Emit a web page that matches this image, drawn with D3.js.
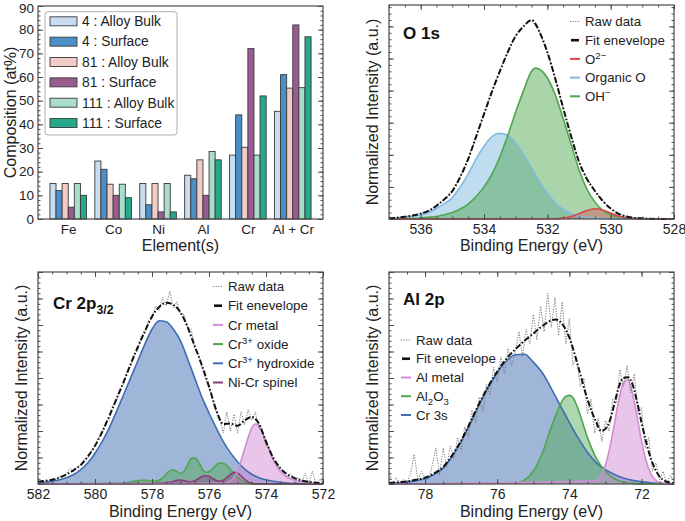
<!DOCTYPE html>
<html>
<head>
<meta charset="utf-8">
<script src="https://d3js.org/d3.v7.min.js"></script>
<style>
  body { margin: 0; background: #fff; }
  text, tspan { white-space: pre; }
</style>
</head>
<body>
<svg id="fig" width="685" height="521"></svg>
<script>
// ---------- composition bars ----------
const elements = ["Fe", "Co", "Ni", "Al", "Cr", "Al + Cr"];
const seriesNames = ["4 : Alloy Bulk", "4 : Surface", "81 : Alloy Bulk", "81 : Surface", "111 : Alloy Bulk", "111 : Surface"];
const bulk4 = [15, 24.5, 15, 18.5, 27, 45.5];
const surf4 = [12, 21, 6, 17, 44, 61];
const bulk81 = [15, 14.7, 15, 25, 30.3, 55.3];
const surf81 = [5, 10, 3, 10, 72, 82];
const bulk111 = [15, 14.7, 15, 28.5, 27, 55.5];
const surf111 = [10, 9, 3, 25, 52, 77];
const compTicks = [0, 10, 20, 30, 40, 50, 60, 70, 80, 90];

// ---------- O 1s ----------
const oTicks = [536, 534, 532, 530, 528];
const oOrganic = [[537,0.003],[536.75,0.005],[536.5,0.008],[536.25,0.013],[536,0.02],[535.75,0.03],[535.5,0.05],[535.25,0.072],[535,0.1],[534.75,0.15],[534.5,0.21],[534.25,0.28],[534,0.34],[533.75,0.385],[533.5,0.4],[533.25,0.39],[533,0.355],[532.75,0.3],[532.5,0.24],[532.25,0.175],[532,0.12],[531.75,0.075],[531.5,0.045],[531.25,0.025],[531,0.013],[530.75,0.007],[530.5,0.004],[530.25,0.002],[530,0.001],[529.75,0]];
const oOH = [[537,0],[536.75,0.001],[536.5,0.002],[536.25,0.003],[536,0.005],[535.75,0.008],[535.5,0.012],[535.25,0.02],[535,0.03],[534.75,0.047],[534.5,0.07],[534.25,0.105],[534,0.15],[533.75,0.21],[533.5,0.29],[533.25,0.39],[533,0.5],[532.75,0.6],[532.5,0.69],[532.375,0.705],[532.25,0.7],[532,0.66],[531.75,0.58],[531.5,0.47],[531.25,0.35],[531,0.23],[530.75,0.14],[530.5,0.08],[530.25,0.04],[530,0.02],[529.75,0.01],[529.5,0.006],[529.25,0.003],[529,0.002],[528.75,0.001],[528.5,0]];
const oO2 = [[531.75,0.001],[531.5,0.004],[531.25,0.012],[531,0.025],[530.75,0.04],[530.5,0.048],[530.25,0.042],[530,0.028],[529.75,0.014],[529.5,0.006],[529.25,0.002],[529,0.001]];
const oFit = [[537,0.003],[536.75,0.006],[536.5,0.01],[536.25,0.016],[536,0.025],[535.75,0.038],[535.5,0.062],[535.25,0.092],[535,0.13],[534.75,0.197],[534.5,0.28],[534.25,0.385],[534,0.49],[533.75,0.595],[533.5,0.69],[533.25,0.78],[533,0.855],[532.75,0.9],[532.5,0.93],[532.375,0.912],[532.25,0.875],[532,0.78],[531.75,0.656],[531.5,0.519],[531.25,0.387],[531,0.268],[530.75,0.187],[530.5,0.132],[530.25,0.084],[530,0.049],[529.75,0.024],[529.5,0.012],[529.25,0.005],[529,0.003],[528.75,0.001],[528.5,0],[528,0]];
const oRaw = [[537,0.004],[536.75,0.005],[536.5,0.012],[536.25,0.015],[536,0.028],[535.75,0.036],[535.5,0.066],[535.25,0.09],[535,0.134],[534.75,0.195],[534.5,0.284],[534.25,0.382],[534,0.494],[533.75,0.592],[533.5,0.694],[533.25,0.777],[533,0.858],[532.75,0.905],[532.5,0.926],[532.25,0.878],[532,0.776],[531.75,0.66],[531.5,0.515],[531.25,0.39],[531,0.265],[530.75,0.19],[530.5,0.13],[530.25,0.086],[530,0.047],[529.75,0.026],[529.5,0.011],[529.25,0.006],[529,0.002],[528.75,0.002],[528.5,0.001],[528.25,0.001],[528,0]];

// ---------- Cr 2p3/2 ----------
const crTicks = [582, 580, 578, 576, 574, 572];
const crHydroxide = [[582,0.005],[581.75,0.008],[581.5,0.013],[581.25,0.02],[581,0.03],[580.75,0.045],[580.5,0.068],[580.25,0.1],[580,0.145],[579.75,0.2],[579.5,0.265],[579.25,0.34],[579,0.42],[578.75,0.5],[578.5,0.58],[578.25,0.66],[578,0.73],[577.75,0.77],[577.5,0.765],[577.25,0.73],[577,0.675],[576.75,0.59],[576.5,0.5],[576.25,0.41],[576,0.335],[575.75,0.265],[575.5,0.2],[575.25,0.148],[575,0.105],[574.75,0.07],[574.5,0.046],[574.25,0.03],[574,0.02],[573.75,0.013],[573.5,0.008],[573.25,0.005],[573,0.003],[572.75,0.002],[572.5,0.001],[572,0]];
const crOxide = [[579,0.003],[578.875,0.006],[578.75,0.009],[578.625,0.013],[578.5,0.016],[578.375,0.018],[578.25,0.018],[578.125,0.016],[578,0.014],[577.875,0.014],[577.75,0.018],[577.625,0.03],[577.5,0.047],[577.375,0.062],[577.25,0.066],[577.125,0.058],[577,0.05],[576.875,0.06],[576.75,0.09],[576.625,0.12],[576.5,0.124],[576.375,0.105],[576.25,0.075],[576.125,0.055],[576,0.058],[575.875,0.072],[575.75,0.089],[575.625,0.099],[575.5,0.098],[575.375,0.088],[575.25,0.07],[575.125,0.05],[575,0.032],[574.875,0.018],[574.75,0.009],[574.625,0.004],[574.5,0.001]];
const crSpinel = [[578,0.002],[577.875,0.003],[577.75,0.004],[577.625,0.005],[577.5,0.006],[577.375,0.008],[577.25,0.012],[577.125,0.017],[577,0.019],[576.875,0.016],[576.75,0.011],[576.625,0.01],[576.5,0.015],[576.375,0.025],[576.25,0.035],[576.125,0.039],[576,0.036],[575.875,0.026],[575.75,0.017],[575.625,0.013],[575.5,0.018],[575.375,0.03],[575.25,0.045],[575.125,0.055],[575,0.052],[574.875,0.038],[574.75,0.022],[574.625,0.01],[574.5,0.004],[574.375,0.001]];
const crMetal = [[575.5,0.003],[575.25,0.015],[575,0.06],[574.75,0.165],[574.5,0.265],[574.375,0.283],[574.25,0.275],[574,0.2],[573.75,0.115],[573.5,0.06],[573.25,0.032],[573,0.018],[572.75,0.01],[572.5,0.005],[572.25,0.002],[572,0.001]];
const crFit = [[582,0.01],[581.75,0.015],[581.5,0.02],[581.25,0.03],[581,0.045],[580.75,0.065],[580.5,0.09],[580.25,0.13],[580,0.18],[579.75,0.245],[579.5,0.32],[579.25,0.4],[579,0.48],[578.75,0.565],[578.5,0.645],[578.25,0.72],[578,0.79],[577.75,0.835],[577.5,0.855],[577.25,0.845],[577,0.81],[576.75,0.74],[576.5,0.65],[576.25,0.56],[576,0.46],[575.75,0.35],[575.5,0.283],[575.25,0.285],[575,0.275],[574.75,0.3],[574.5,0.316],[574.25,0.285],[574,0.2],[573.75,0.125],[573.5,0.075],[573.25,0.045],[573,0.028],[572.75,0.017],[572.5,0.01],[572.25,0.006],[572,0.004]];
const crRaw = [[582,0.012],[581.875,0.008],[581.75,0.018],[581.625,0.014],[581.5,0.026],[581.375,0.02],[581.25,0.034],[581.125,0.03],[581,0.05],[580.875,0.074],[580.75,0.058],[580.625,0.08],[580.5,0.092],[580.375,0.118],[580.25,0.124],[580.125,0.16],[580,0.175],[579.875,0.22],[579.75,0.236],[579.625,0.29],[579.5,0.3],[579.375,0.37],[579.25,0.39],[579.125,0.45],[579,0.47],[578.875,0.53],[578.75,0.555],[578.625,0.61],[578.5,0.63],[578.375,0.7],[578.25,0.71],[578.125,0.77],[578,0.78],[577.875,0.84],[577.75,0.82],[577.625,0.88],[577.5,0.84],[577.375,0.91],[577.25,0.83],[577.125,0.86],[577,0.8],[576.875,0.8],[576.75,0.74],[576.625,0.73],[576.5,0.64],[576.375,0.62],[576.25,0.55],[576.125,0.5],[576,0.45],[575.875,0.4],[575.75,0.34],[575.625,0.31],[575.5,0.24],[575.375,0.34],[575.25,0.25],[575.125,0.33],[575,0.24],[574.875,0.34],[574.75,0.28],[574.625,0.35],[574.5,0.3],[574.375,0.34],[574.25,0.26],[574.125,0.25],[574,0.18],[573.875,0.17],[573.75,0.11],[573.625,0.1],[573.5,0.07],[573.375,0.064],[573.25,0.035],[573.125,0.048],[573,0.02],[572.875,0.03],[572.75,0.01],[572.625,0.05],[572.5,0.004],[572.375,0.06],[572.25,0.002],[572.125,0.02],[572,0.008]];

// ---------- Al 2p ----------
const alTicks = [78, 76, 74, 72];
const alCr3s = [[79,0.003],[78.75,0.006],[78.5,0.01],[78.25,0.016],[78,0.025],[77.75,0.045],[77.5,0.075],[77.25,0.13],[77,0.2],[76.75,0.285],[76.5,0.375],[76.25,0.455],[76,0.525],[75.75,0.58],[75.5,0.61],[75.25,0.612],[75,0.575],[74.75,0.525],[74.5,0.45],[74.25,0.37],[74,0.29],[73.75,0.215],[73.5,0.15],[73.25,0.1],[73,0.068],[72.75,0.045],[72.5,0.028],[72.25,0.017],[72,0.01],[71.75,0.006],[71.5,0.003],[71.25,0.002],[71,0.001]];
const alOxide = [[75.5,0.004],[75.25,0.018],[75,0.06],[74.75,0.145],[74.5,0.27],[74.25,0.375],[74.125,0.41],[74,0.418],[73.875,0.4],[73.75,0.35],[73.5,0.22],[73.25,0.12],[73,0.06],[72.75,0.025],[72.5,0.009],[72.25,0.003],[72,0]];
const alMetal = [[73.25,0.015],[73,0.09],[72.875,0.174],[72.75,0.286],[72.625,0.4],[72.5,0.479],[72.375,0.492],[72.25,0.428],[72.125,0.319],[72,0.203],[71.875,0.111],[71.75,0.052],[71.5,0.007],[71.25,0.001]];
const alFit = [[79,0.005],[78.75,0.008],[78.5,0.012],[78.25,0.02],[78,0.03],[77.75,0.05],[77.5,0.08],[77.25,0.135],[77,0.205],[76.75,0.29],[76.5,0.38],[76.25,0.46],[76,0.53],[75.75,0.59],[75.5,0.635],[75.25,0.675],[75,0.71],[74.75,0.745],[74.5,0.772],[74.375,0.776],[74.25,0.765],[74,0.69],[73.75,0.55],[73.5,0.4],[73.25,0.29],[73.125,0.25],[73,0.26],[72.875,0.3],[72.75,0.38],[72.625,0.46],[72.5,0.5],[72.375,0.503],[72.25,0.47],[72.125,0.39],[72,0.29],[71.75,0.125],[71.5,0.035],[71.25,0.008],[71,0.002]];
const alRaw = [[79,0.06],[78.9,0],[78.8,0.03],[78.7,0.005],[78.6,0.02],[78.5,0.01],[78.4,0.05],[78.3,0.14],[78.2,0.02],[78.1,0.06],[78,0.03],[77.9,0.02],[77.8,0.09],[77.7,0.17],[77.6,0.04],[77.5,0.17],[77.4,0.08],[77.3,0.18],[77.2,0.12],[77.1,0.22],[77,0.16],[76.9,0.27],[76.8,0.22],[76.7,0.35],[76.6,0.29],[76.5,0.41],[76.4,0.34],[76.3,0.47],[76.2,0.42],[76.1,0.55],[76,0.48],[75.9,0.6],[75.8,0.52],[75.7,0.64],[75.6,0.56],[75.5,0.62],[75.4,0.72],[75.3,0.6],[75.2,0.73],[75.1,0.66],[75,0.8],[74.9,0.68],[74.8,0.84],[74.7,0.72],[74.6,0.9],[74.5,0.74],[74.4,0.88],[74.3,0.7],[74.2,0.86],[74.1,0.66],[74,0.78],[73.9,0.56],[73.8,0.6],[73.7,0.46],[73.6,0.5],[73.5,0.33],[73.4,0.4],[73.3,0.24],[73.2,0.31],[73.1,0.2],[73,0.3],[72.9,0.25],[72.8,0.4],[72.7,0.38],[72.6,0.54],[72.5,0.46],[72.4,0.56],[72.3,0.43],[72.2,0.52],[72.1,0.33],[72,0.36],[71.9,0.17],[71.8,0.22],[71.7,0.06],[71.6,0.1],[71.5,0.02],[71.4,0.06],[71.3,0],[71.2,0.04],[71.1,0.01]];

const FONT = "'Liberation Sans', Arial, Helvetica, sans-serif";
const AXIS_COL = "#4a4a4a";
const RAW_COL = "#7a7a7a";
const barColors = ["#c9ddf0", "#4a8fc8", "#f2cbc6", "#9a5b93", "#a9dccb", "#25a98a"];
const GREEN = "#4ea64e", BLUE = "#3f6db3", PINK = "#d28cd4";

const svg = d3.select("#fig").attr("font-family", FONT);

// writes text with sub/superscript pieces
function addRich(t, parts, size) {
  let shift = 0;
  parts.forEach(([s, k]) => {
    const target = k === "sup" ? -0.38 * size : k === "sub" ? 0.28 * size : 0;
    t.append("tspan")
      .attr("dy", target - shift)
      .attr("font-size", k ? size * 0.72 : size)
      .text(s);
    shift = target;
  });
}

function tickAxis(g, axis, tx, ty, labels, size) {
  const gg = g.append("g").attr("transform", "translate(" + tx + "," + ty + ")").call(axis);
  gg.attr("font-family", FONT).attr("font-size", size || 13.5);
  gg.select(".domain").remove();
  gg.selectAll("line").attr("stroke", AXIS_COL).attr("stroke-width", 1);
  gg.selectAll("text").attr("fill", "#222");
  if (!labels) gg.selectAll("text").remove();
  return gg;
}

// ================= bar chart =================
(function () {
  const b = { left: 38, right: 323, top: 6, bottom: 219 };
  const values = [bulk4, surf4, bulk81, surf81, bulk111, surf111];
  const x0 = d3.scalePoint().domain(elements).range([b.left, b.right]).padding(0.673);
  const x1 = d3.scaleBand().domain(seriesNames).range([-18.3, 18.3]);
  const y = d3.scaleLinear().domain([0, 90]).range([b.bottom, b.top]);
  const g = svg.append("g");

  seriesNames.forEach((name, i) => {
    g.append("g")
      .selectAll("rect")
      .data(values[i])
      .enter()
      .append("rect")
      .attr("x", (d, j) => x0(elements[j]) + x1(name))
      .attr("y", d => y(d))
      .attr("width", x1.bandwidth())
      .attr("height", d => y(0) - y(d))
      .attr("fill", barColors[i])
      .attr("stroke", "#3a3a3a")
      .attr("stroke-width", 0.9);
  });

  const minor = d3.range(0, 90.01, 2);
  const left = tickAxis(g, d3.axisLeft(y).tickValues(compTicks).tickSize(-5).tickPadding(4), b.left, 0, true, 13.5);
  // keep the top label inside the picture
  left.selectAll("text").filter(d => d === 90).attr("dy", "0.5em");
  tickAxis(g, d3.axisLeft(y).tickValues(minor).tickSize(-2.5), b.left, 0, false);
  tickAxis(g, d3.axisRight(y).tickValues(compTicks).tickSize(-5), b.right, 0, false);
  tickAxis(g, d3.axisRight(y).tickValues(minor).tickSize(-2.5), b.right, 0, false);
  tickAxis(g, d3.axisBottom(x0).tickSize(0).tickPadding(5), 0, b.bottom, true, 13.5);

  g.append("rect")
    .attr("x", b.left).attr("y", b.top)
    .attr("width", b.right - b.left).attr("height", b.bottom - b.top)
    .attr("fill", "none").attr("stroke", AXIS_COL).attr("stroke-width", 1.2);

  // legend
  const lg = g.append("g");
  lg.append("rect")
    .attr("x", 45).attr("y", 11.7).attr("width", 132).attr("height", 123.3)
    .attr("rx", 3).attr("fill", "#fff").attr("fill-opacity", 0.9)
    .attr("stroke", "#b0b0b0").attr("stroke-width", 1);
  seriesNames.forEach((name, i) => {
    const cy = 21.3 + i * 20.35;
    lg.append("rect")
      .attr("x", 50).attr("y", cy - 4.5).attr("width", 27).attr("height", 9)
      .attr("fill", barColors[i]).attr("stroke", "#3a3a3a").attr("stroke-width", 0.9);
    lg.append("text")
      .attr("x", 82).attr("y", cy + 4.8)
      .attr("font-size", 13.8).attr("fill", "#222")
      .text(name);
  });

  g.append("text")
    .attr("transform", "translate(16," + (b.top + b.bottom) / 2 + ") rotate(-90)")
    .attr("text-anchor", "middle").attr("font-size", 16).attr("fill", "#222")
    .text("Composition (at%)");
  g.append("text")
    .attr("x", (b.left + b.right) / 2).attr("y", 251)
    .attr("text-anchor", "middle").attr("font-size", 16).attr("fill", "#222")
    .text("Element(s)");
})();

// ================= spectra =================
function drawSpectrum(p) {
  const x = d3.scaleLinear().domain(p.xDomain).range([p.left, p.right]);
  const y = d3.scaleLinear().domain([0, 1]).range([p.bottom, p.top]);
  const g = svg.append("g");

  g.append("clipPath").attr("id", p.id + "-clip")
    .append("rect")
    .attr("x", p.left).attr("y", p.top)
    .attr("width", p.right - p.left).attr("height", p.bottom - p.top + 1);
  const plot = g.append("g").attr("clip-path", "url(#" + p.id + "-clip)");

  const area = d3.area().x(d => x(d[0])).y0(y(0)).y1(d => y(d[1])).curve(d3.curveMonotoneX);
  const line = d3.line().x(d => x(d[0])).y(d => y(d[1])).curve(d3.curveMonotoneX);
  // flat zero ends outside the frame so baselines run edge to edge
  const padL = x.invert(p.left - 10), padR = x.invert(p.right + 10);
  const full = c => [[padL, 0]].concat(c, [[padR, 0]]);

  p.components.forEach(c => {
    plot.append("path").datum(full(c.data)).attr("d", area)
      .attr("fill", c.color).attr("fill-opacity", c.fillOpacity).attr("stroke", "none");
  });
  p.components.forEach(c => {
    plot.append("path").datum(full(c.data)).attr("d", line)
      .attr("fill", "none").attr("stroke", c.color).attr("stroke-width", 1.6);
  });
  plot.append("path").datum(p.raw)
    .attr("d", d3.line().x(d => x(d[0])).y(d => y(d[1])))
    .attr("fill", "none").attr("stroke", RAW_COL).attr("stroke-width", 1)
    .attr("stroke-dasharray", "1.2,1.4");
  plot.append("path").datum(p.fit).attr("d", line)
    .attr("fill", "none").attr("stroke", "#111").attr("stroke-width", 2)
    .attr("stroke-dasharray", "6,2,1.6,2");

  // ticks on all four sides, pointing in
  const lo = Math.min(...p.xDomain), hi = Math.max(...p.xDomain);
  const minorX = d3.range(Math.ceil(lo * 2) / 2, hi + 1e-9, 0.5);
  const majorY = d3.range(0, 1.0001, p.yStep);
  const minorY = d3.range(0, 1.0001, p.yStep / 5);
  tickAxis(g, d3.axisBottom(x).tickValues(p.xTicks).tickSize(-5).tickPadding(5).tickFormat(d3.format("d")), 0, p.bottom, true, 14);
  tickAxis(g, d3.axisBottom(x).tickValues(minorX).tickSize(-2.5), 0, p.bottom, false);
  tickAxis(g, d3.axisTop(x).tickValues(p.xTicks).tickSize(-5), 0, p.top, false);
  tickAxis(g, d3.axisTop(x).tickValues(minorX).tickSize(-2.5), 0, p.top, false);
  tickAxis(g, d3.axisLeft(y).tickValues(majorY).tickSize(-5), p.left, 0, false);
  tickAxis(g, d3.axisLeft(y).tickValues(minorY).tickSize(-2.5), p.left, 0, false);
  tickAxis(g, d3.axisRight(y).tickValues(majorY).tickSize(-5), p.right, 0, false);
  tickAxis(g, d3.axisRight(y).tickValues(minorY).tickSize(-2.5), p.right, 0, false);

  g.append("rect")
    .attr("x", p.left).attr("y", p.top)
    .attr("width", p.right - p.left).attr("height", p.bottom - p.top)
    .attr("fill", "none").attr("stroke", AXIS_COL).attr("stroke-width", 1.2);

  // title
  const tt = g.append("text").attr("x", p.titleX).attr("y", p.titleY)
    .attr("font-weight", "bold").attr("fill", "#111");
  addRich(tt, p.title, 17);

  // legend
  p.legend.forEach((item, i) => {
    const cy = p.legendY + i * p.legendStep;
    const s = g.append("line")
      .attr("x1", p.legendX).attr("x2", p.legendX + 10)
      .attr("y1", cy).attr("y2", cy);
    if (item.type === "raw") {
      s.attr("stroke", RAW_COL).attr("stroke-width", 1).attr("stroke-dasharray", "1.2,1.4");
    } else if (item.type === "fit") {
      s.attr("x1", p.legendX + 1).attr("x2", p.legendX + 9)
        .attr("stroke", "#111").attr("stroke-width", 2.6);
    } else {
      s.attr("stroke", item.color).attr("stroke-width", 2);
    }
    const t = g.append("text").attr("x", p.legendX + 15).attr("y", cy + 4.7).attr("fill", "#222");
    addRich(t, item.label, 13.3);
  });

  g.append("text")
    .attr("transform", "translate(" + p.yLabelX + "," + (p.top + p.bottom) / 2 + ") rotate(-90)")
    .attr("text-anchor", "middle").attr("font-size", 16).attr("fill", "#222")
    .text("Normalized Intensity (a.u.)");
  g.append("text")
    .attr("x", (p.left + p.right) / 2).attr("y", p.xLabelY)
    .attr("text-anchor", "middle").attr("font-size", 16).attr("fill", "#222")
    .text("Binding Energy (eV)");
}

const rawItem = { type: "raw", label: [["Raw data", ""]] };
const fitItem = { type: "fit", label: [["Fit enevelope", ""]] };

drawSpectrum({
  id: "o1s", left: 389, right: 674, top: 5, bottom: 219,
  xDomain: [537, 528], xTicks: oTicks, yStep: 0.15,
  title: [["O 1s", ""]], titleX: 403, titleY: 39,
  yLabelX: 378, xLabelY: 251,
  components: [
    { data: oOrganic, color: "#7fbbe0", fillOpacity: 0.5 },
    { data: oOH, color: GREEN, fillOpacity: 0.48 },
    { data: oO2, color: "#d9474b", fillOpacity: 0.4 }
  ],
  raw: oRaw, fit: oFit,
  legendX: 570, legendY: 21.5, legendStep: 18.7,
  legend: [rawItem, fitItem,
    { color: "#d9474b", label: [["O", ""], ["2\u2212", "sup"]] },
    { color: "#7fbbe0", label: [["Organic O", ""]] },
    { color: GREEN, label: [["OH", ""], ["\u2212", "sup"]] }]
});

drawSpectrum({
  id: "cr", left: 38, right: 323, top: 272, bottom: 484,
  xDomain: [582, 572], xTicks: crTicks, yStep: 0.125,
  title: [["Cr 2p", ""], ["3/2", "sub"]], titleX: 53, titleY: 309,
  yLabelX: 27, xLabelY: 517,
  components: [
    { data: crHydroxide, color: BLUE, fillOpacity: 0.5 },
    { data: crOxide, color: GREEN, fillOpacity: 0.45 },
    { data: crSpinel, color: "#8e3b7e", fillOpacity: 0.4 },
    { data: crMetal, color: PINK, fillOpacity: 0.5 }
  ],
  raw: crRaw, fit: crFit,
  legendX: 213, legendY: 286.5, legendStep: 19.2,
  legend: [rawItem, fitItem,
    { color: PINK, label: [["Cr metal", ""]] },
    { color: GREEN, label: [["Cr", ""], ["3+", "sup"], [" oxide", ""]] },
    { color: BLUE, label: [["Cr", ""], ["3+", "sup"], [" hydroxide", ""]] },
    { color: "#8e3b7e", label: [["Ni-Cr spinel", ""]] }]
});

drawSpectrum({
  id: "al", left: 389, right: 674, top: 272, bottom: 484,
  xDomain: [79, 71.1], xTicks: alTicks, yStep: 0.125,
  title: [["Al 2p", ""]], titleX: 403, titleY: 305,
  yLabelX: 378, xLabelY: 517,
  components: [
    { data: alCr3s, color: BLUE, fillOpacity: 0.5 },
    { data: alOxide, color: GREEN, fillOpacity: 0.45 },
    { data: alMetal, color: PINK, fillOpacity: 0.5 }
  ],
  raw: alRaw, fit: alFit,
  legendX: 401, legendY: 340, legendStep: 18.75,
  legend: [rawItem, fitItem,
    { color: PINK, label: [["Al metal", ""]] },
    { color: GREEN, label: [["Al", ""], ["2", "sub"], ["O", ""], ["3", "sub"]] },
    { color: BLUE, label: [["Cr 3s", ""]] }]
});
</script>
</body>
</html>
